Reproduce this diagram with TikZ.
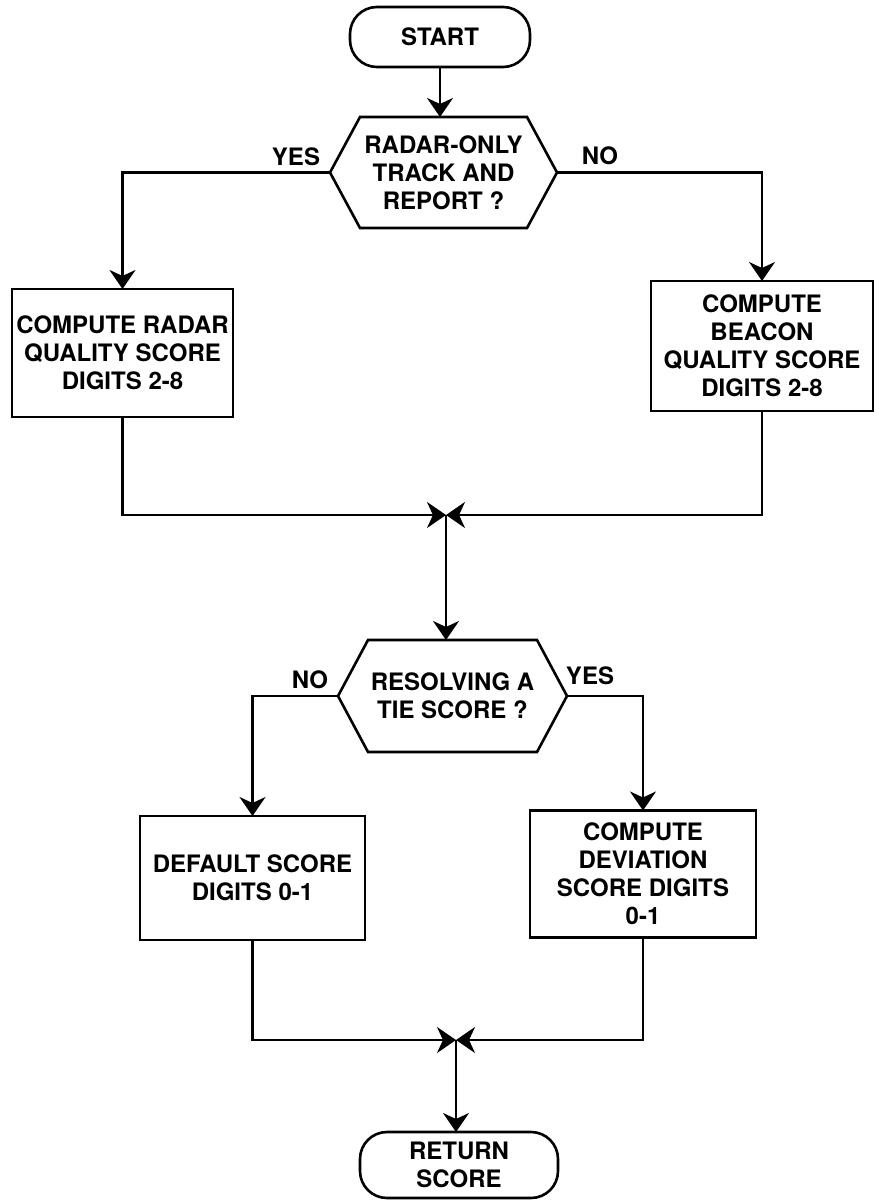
\documentclass[tikz,border=0pt]{standalone}
\usepackage{fontspec}
\setmainfont{TeX Gyre Heros}
\usetikzlibrary{arrows.meta}
\begin{document}
\begin{tikzpicture}[x=1pt,y=-1pt,
  every node/.style={font=\bfseries\fontsize{24}{28}\selectfont, align=center, inner sep=0pt, outer sep=0pt},
  ln/.style={line width=2.6pt, line join=miter},
  arr/.style={ln, -{Stealth[length=19pt,width=26pt,inset=6pt]}},
  term/.style={draw, ln, rounded corners=27pt},
  boxx/.style={draw, ln},
  hexa/.style={},
  lbl/.style={}
]
\useasboundingbox (0,0) rectangle (878,1204);
\fill[white] (0,0) rectangle (878,1204);

% nodes
\node[term, minimum width=180pt, minimum height=60pt] (start) at (440,37) {START};
\node[hexa, minimum width=227pt, minimum height=111pt] (hex1) at (443.5,172.5) {RADAR-ONLY\\TRACK AND\\REPORT ?};
\node[boxx, minimum width=221pt, minimum height=128pt] (lbox) at (122.5,353) {COMPUTE RADAR\\QUALITY SCORE\\DIGITS 2-8};
\node[boxx, minimum width=222pt, minimum height=130pt] (rbox) at (762,346) {COMPUTE\\BEACON\\QUALITY SCORE\\DIGITS 2-8};
\node[hexa, minimum width=229pt, minimum height=112pt] (hex2) at (452.5,696) {RESOLVING A\\TIE SCORE ?};
\node[boxx, minimum width=225pt, minimum height=124pt] (llbox) at (252.5,878) {DEFAULT SCORE\\DIGITS 0-1};
\node[boxx, minimum width=226pt, minimum height=127pt] (lrbox) at (643,874) {COMPUTE\\DEVIATION\\SCORE DIGITS\\0-1};
\node[term, minimum width=198pt, minimum height=66pt] (ret) at (459,1165) {RETURN\\SCORE};

% hexagon outlines
\draw[ln] (hex1.west) -- ([xshift=30pt]hex1.north west) -- ([xshift=-30pt]hex1.north east) -- (hex1.east) -- ([xshift=-30pt]hex1.south east) -- ([xshift=30pt]hex1.south west) -- cycle;
\draw[ln] (hex2.west) -- ([xshift=30pt]hex2.north west) -- ([xshift=-30pt]hex2.north east) -- (hex2.east) -- ([xshift=-30pt]hex2.south east) -- ([xshift=30pt]hex2.south west) -- cycle;

% labels
\node[lbl] (yes1) at (296,157) {YES};
\node[lbl] (no1) at (600,156) {NO};
\node[lbl] (no2) at (310,680) {NO};
\node[lbl] (yes2) at (590,676) {YES};

% junctions
\coordinate (j1) at (446,515);
\coordinate (j2) at (456,1040);

% connectors
\draw[arr] (start.south) -- (start.south |- hex1.north);
\draw[arr] (hex1.west) -| (lbox.north);
\draw[arr] (hex1.east) -| (rbox.north);
\draw[arr] (lbox.south) |- (j1);
\draw[arr] (rbox.south) |- (j1);
\draw[arr] (j1) -- (j1 |- hex2.north);
\draw[arr] (hex2.west) -| (llbox.north);
\draw[arr] (hex2.east) -| (lrbox.north);
\draw[arr] (llbox.south) |- (j2);
\draw[arr] (lrbox.south) |- (j2);
\draw[arr] (j2) -- (j2 |- ret.north);
\end{tikzpicture}
\end{document}
